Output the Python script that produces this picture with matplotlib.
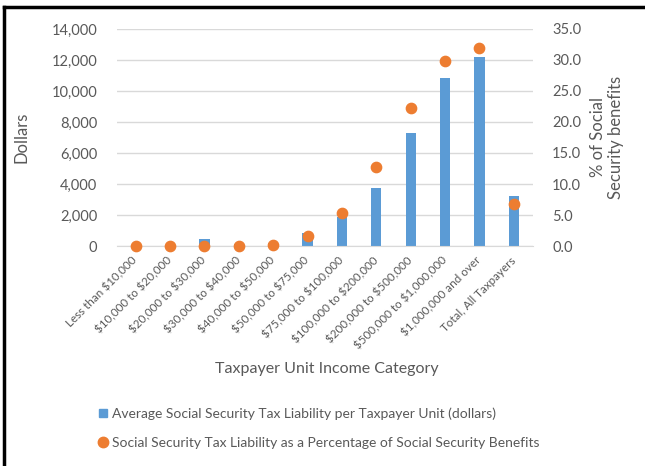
import matplotlib.pyplot as plt
import numpy as np
from matplotlib.lines import Line2D
from matplotlib.ticker import FuncFormatter, MultipleLocator

plt.rcParams['font.family'] = ['Lato', 'DejaVu Sans']
plt.rcParams['text.parse_math'] = False

categories = ['Less than $10,000', '$10,000 to $20,000', '$20,000 to $30,000',
              '$30,000 to $40,000', '$40,000 to $50,000', '$50,000 to $75,000',
              '$75,000 to $100,000', '$100,000 to $200,000', '$200,000 to $500,000',
              '$500,000 to $1,000,000', '$1,000,000 and over', 'Total, All Taxpayers']
tax_dollars = [10, 10, 480, 120, 200, 870, 1850, 3770, 7280, 10810, 12170, 3210]
tax_pct = [0.0, 0.0, 0.0, 0.0, 0.1, 1.6, 5.3, 12.8, 22.3, 29.8, 31.9, 6.7]

bar_label = 'Average Social Security Tax Liability per Taxpayer Unit (dollars)'
dot_label = 'Social Security Tax Liability as a Percentage of Social Security Benefits'

blue = '#5B9BD5'
orange = '#ED7D31'
grey = '#595959'


def main():
    fig = plt.figure(figsize=(6.45, 4.66), dpi=100)
    ax = fig.add_axes([0.181, 0.472, 0.645, 0.466])
    ax2 = ax.twinx()

    x = np.arange(len(categories))
    ax.bar(x, tax_dollars, width=0.3, color=blue, zorder=2)
    ax2.scatter(x, tax_pct, s=55, color=orange, zorder=3, clip_on=False)

    ax.set_xlim(-0.55, len(categories) - 0.45)
    ax.set_ylim(0, 14000)
    ax2.set_ylim(0, 35)
    ax.yaxis.set_major_locator(MultipleLocator(2000))
    ax2.yaxis.set_major_locator(MultipleLocator(5))
    ax.yaxis.set_major_formatter(FuncFormatter(lambda v, p: f'{v:,.0f}'))
    ax2.yaxis.set_major_formatter(FuncFormatter(lambda v, p: f'{v:.1f}'))

    ax.grid(axis='y', color='#d9d9d9', lw=1, zorder=0)
    ax.set_axisbelow(True)
    for a in (ax, ax2):
        for s in a.spines.values():
            s.set_visible(False)
        a.tick_params(length=0, colors=grey, labelsize=10.5)
    ax.spines['bottom'].set_visible(True)
    ax.spines['bottom'].set_color('#d9d9d9')

    ax.set_xticks(x)
    ax.set_xticklabels(categories, rotation=45, ha='right', va='center',
                       rotation_mode='anchor', fontsize=8.4, color=grey)
    ax.tick_params(axis='x', pad=9)
    ax.tick_params(axis='y', pad=14)
    ax2.tick_params(axis='y', pad=14)

    ax.set_ylabel('Dollars', fontsize=12, color=grey, labelpad=16)
    ax2.set_ylabel('% of Social\nSecurity benefits', fontsize=12, color=grey, labelpad=6)
    fig.text(0.506, 0.208, 'Taxpayer Unit Income Category', ha='center', va='center',
             fontsize=11.5, color=grey)

    handles = [Line2D([], [], ls='', marker='s', ms=6, color=blue),
               Line2D([], [], ls='', marker='o', ms=7.5, color=orange)]
    fig.legend(handles, [bar_label, dot_label], loc='upper left',
               bbox_to_anchor=(0.145, 0.138), frameon=False, fontsize=10,
               labelcolor=grey, handlelength=0.6, handletextpad=0.3,
               labelspacing=1.25, borderaxespad=0)

    # frame drawn around the original chart image
    fig.add_artist(Line2D([0.006, 0.006], [0, 0.986], color='black', lw=2.5))
    fig.add_artist(Line2D([0.006, 1], [0.986, 0.986], color='black', lw=2.5))

    fig.savefig('out.png', dpi=100)


if __name__ == '__main__':
    main()
